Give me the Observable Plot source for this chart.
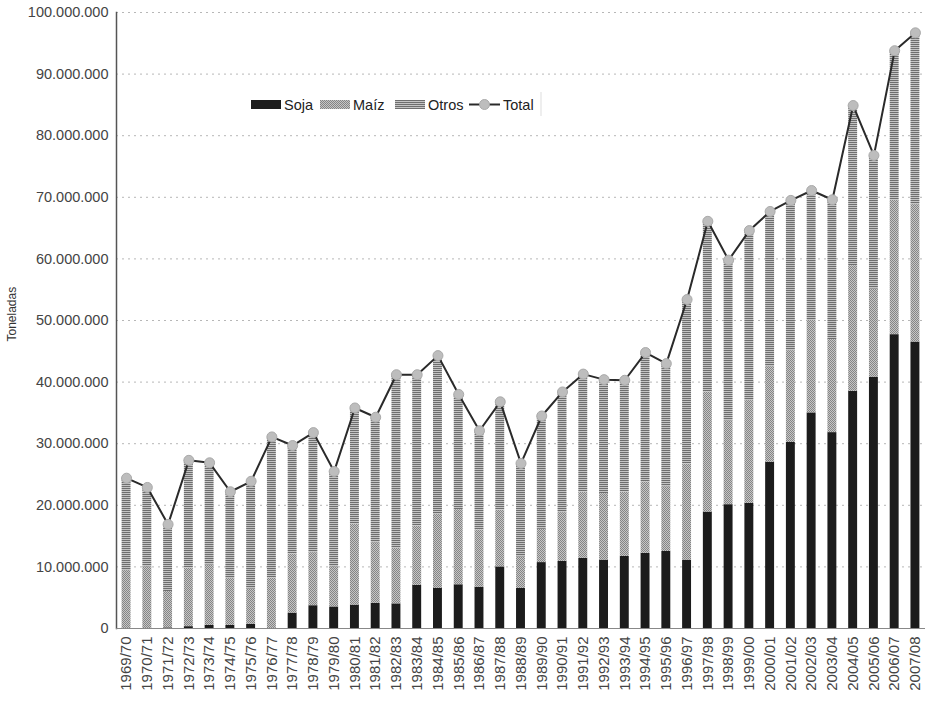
<!DOCTYPE html>
<html>
<head>
<meta charset="utf-8">
<script src="https://cdn.jsdelivr.net/npm/d3@7"></script>
<script src="https://cdn.jsdelivr.net/npm/@observablehq/plot@0.6"></script>
<style>
  html, body { margin: 0; padding: 0; background: #fff; }
  #chart svg { display: block; }
</style>
</head>
<body>
<div id="chart"></div>
<script>
// Campañas
const categorias = ["1969/70","1970/71","1971/72","1972/73","1973/74","1974/75","1975/76","1976/77","1977/78","1978/79","1979/80","1980/81","1981/82","1982/83","1983/84","1984/85","1985/86","1986/87","1987/88","1988/89","1989/90","1990/91","1991/92","1992/93","1993/94","1994/95","1995/96","1996/97","1997/98","1998/99","1999/00","2000/01","2001/02","2002/03","2003/04","2004/05","2005/06","2006/07","2007/08"];
// Millones de toneladas
const soja  = [0,0,0.1,0.3,0.5,0.5,0.7,0,2.5,3.7,3.5,3.8,4.1,4.0,7.0,6.5,7.1,6.7,10.0,6.5,10.7,10.9,11.4,11.1,11.7,12.2,12.5,11.1,18.9,20.1,20.3,27.0,30.2,35.0,31.8,38.5,40.8,47.7,46.5];
const maiz  = [9.4,10.0,5.9,9.5,9.8,7.6,5.7,8.2,9.6,8.6,6.5,13.1,9.8,9.0,9.6,12.0,12.2,9.3,9.2,5.1,5.4,7.9,10.7,10.8,10.4,11.6,10.5,15.6,19.5,13.6,16.7,15.5,14.9,15.0,15.1,20.4,14.3,21.8,22.3];
const otros = [15.0,12.9,10.9,17.5,16.6,14.1,17.5,22.9,17.6,19.5,15.5,18.9,20.4,28.2,24.6,25.8,18.7,16.1,17.6,15.2,18.4,19.6,19.2,18.5,18.2,21.0,20.0,26.7,27.7,26.1,27.6,25.2,24.4,21.1,22.7,26.0,21.7,24.3,27.9];
const total = [24.4,22.9,16.9,27.3,26.9,22.2,23.9,31.1,29.7,31.8,25.5,35.8,34.3,41.2,41.2,44.3,38.0,32.1,36.8,26.8,34.5,38.4,41.3,40.4,40.3,44.8,43.0,53.4,66.1,59.8,64.6,67.7,69.5,71.1,69.6,84.9,76.8,93.8,96.7];
const series = ["Soja", "Maíz", "Otros"];
const yTicks = [0,10e6,20e6,30e6,40e6,50e6,60e6,70e6,80e6,90e6,100e6];

const M = 1e6;
const barras = [];
categorias.forEach((c, i) => {
  barras.push({campania: c, serie: "Soja", valor: soja[i] * M});
  barras.push({campania: c, serie: "Maíz", valor: maiz[i] * M});
  barras.push({campania: c, serie: "Otros", valor: otros[i] * M});
});
const totales = categorias.map((c, i) => ({campania: c, valor: total[i] * M}));

const fmt = d => d3.format(",")(d).replace(/,/g, ".");
const FONT = "'Liberation Sans', Arial, sans-serif";

const chart = Plot.plot({
  width: 932,
  height: 701,
  marginLeft: 116,
  marginRight: 7,
  marginTop: 12,
  marginBottom: 73,
  style: {fontFamily: FONT, fontSize: "14px", color: "#333", background: "#fff"},
  x: {domain: categorias, paddingInner: 0.57, paddingOuter: 0.27, round: false, label: null},
  y: {domain: [0, 100e6], label: null},
  color: {type: "ordinal", domain: series, range: ["#1c1c1c", "url(#pat-maiz)", "url(#pat-otros)"]},
  marks: [
    Plot.gridY(yTicks, {stroke: "#999", strokeOpacity: 0.7, strokeDasharray: "2,4"}),
    Plot.axisY(yTicks, {tickFormat: fmt, tickSize: 0, tickPadding: 8, fontSize: 14.5, fill: "#444", label: null}),
    Plot.axisX({tickRotate: -90, tickSize: 0, tickPadding: 8, fontSize: 15, fill: "#444", label: null}),
    Plot.text(["Toneladas"], {frameAnchor: "left", dx: -104, dy: 21, rotate: -90, fontSize: 12, fill: "#333"}),
    Plot.barY(barras, Plot.stackY({x: "campania", y: "valor", fill: "serie", order: series})),
    Plot.frame({anchor: "left", stroke: "#555", strokeWidth: 1.5}),
    Plot.ruleY([0], {stroke: "#888", strokeWidth: 1}),
    Plot.line(totales, {x: "campania", y: "valor", stroke: "#2a2a2a", strokeWidth: 2}),
    Plot.dot(totales, {x: "campania", y: "valor", r: 5, fill: "#bdbdbd", stroke: "#aaa", strokeWidth: 1})
  ]
});

// Texture patterns for the stacked series
const svg = d3.select(chart);
const defs = svg.insert("defs", ":first-child");
const pm = defs.append("pattern").attr("id", "pat-maiz").attr("patternUnits", "userSpaceOnUse").attr("width", 2).attr("height", 2);
pm.append("rect").attr("width", 2).attr("height", 2).attr("fill", "#c6c6c6");
pm.append("rect").attr("width", 1).attr("height", 1).attr("fill", "#858585");
pm.append("rect").attr("x", 1).attr("y", 1).attr("width", 1).attr("height", 1).attr("fill", "#858585");
const po = defs.append("pattern").attr("id", "pat-otros").attr("patternUnits", "userSpaceOnUse").attr("width", 2).attr("height", 2);
po.append("rect").attr("width", 2).attr("height", 2).attr("fill", "#c4c4c4");
po.append("rect").attr("width", 2).attr("height", 1).attr("fill", "#6e6e6e");

// Legend inside the plot area
const lg = svg.append("g").attr("font-family", FONT).attr("font-size", 14.5).attr("fill", "#222").attr("text-anchor", "start");
const legendItems = [
  {label: "Soja", x: 251, fill: "#1c1c1c"},
  {label: "Maíz", x: 320, fill: "url(#pat-maiz)"},
  {label: "Otros", x: 395, fill: "url(#pat-otros)"}
];
legendItems.forEach(it => {
  lg.append("rect").attr("x", it.x).attr("y", 100).attr("width", 30).attr("height", 9).attr("fill", it.fill);
  lg.append("text").attr("x", it.x + 33).attr("y", 110).attr("text-anchor", "start").text(it.label);
});
lg.append("line").attr("x1", 469).attr("x2", 500).attr("y1", 104.5).attr("y2", 104.5).attr("stroke", "#2a2a2a").attr("stroke-width", 2);
lg.append("circle").attr("cx", 484.5).attr("cy", 104.5).attr("r", 5).attr("fill", "#bdbdbd").attr("stroke", "#aaa");
lg.append("text").attr("x", 503).attr("y", 110).attr("text-anchor", "start").text("Total");
lg.append("line").attr("x1", 541).attr("x2", 541).attr("y1", 92).attr("y2", 116).attr("stroke", "#ddd");

document.getElementById("chart").appendChild(chart);
</script>
</body>
</html>
